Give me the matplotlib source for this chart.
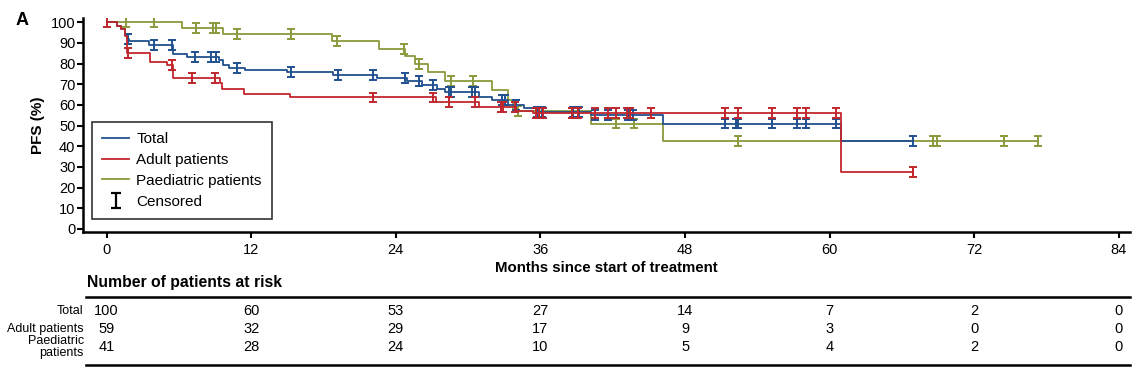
import matplotlib.pyplot as plt
import numpy as np
from matplotlib.lines import Line2D
from matplotlib.transforms import blended_transform_factory

plt.rcParams['font.family'] = ['Liberation Sans', 'DejaVu Sans']

# Kaplan-Meier steps (months, PFS %)
total_t = [0, 0.9, 1.2, 1.5, 1.7, 1.9, 3.5, 5.5, 6.7, 9.3, 9.7, 10.2, 11.5,
           15.0, 18.8, 22.4, 24.9, 26.2, 27.4, 28.1, 30.9, 32.0, 33.3, 34.6,
           35.6, 40.2, 46.2, 60.9]
total_s = [100, 98.2, 96.8, 94.0, 92.0, 90.8, 88.8, 84.8, 83.2, 81.5, 79.1,
           78.0, 77.1, 75.9, 74.3, 73.0, 71.4, 69.5, 67.6, 66.3, 63.9, 62.3,
           59.9, 58.3, 56.7, 55.0, 51.0, 42.5]
total_cens = [1.75, 1.8, 3.9, 5.4, 7.3, 8.7, 9.1, 10.8, 15.3, 19.2, 22.1,
              24.8, 25.9, 27.1, 28.4, 28.6, 30.3, 30.6, 32.8, 33.1, 34.0,
              35.7, 35.9, 36.1, 38.7, 39.2, 40.5, 41.6, 43.3, 43.7, 51.3,
              52.2, 52.4, 55.2, 57.3, 58.0, 60.5, 66.9]

adult_t = [0, 0.9, 1.2, 1.5, 1.7, 3.6, 5.0, 5.5, 9.4, 9.6, 11.4, 15.2, 27.3,
           30.9, 34.0, 35.4, 60.9]
adult_s = [100, 98.2, 96.8, 93.2, 85.1, 80.8, 79.1, 73.2, 70.6, 67.9, 65.5,
           63.6, 61.2, 58.8, 57.1, 55.9, 27.7]
adult_cens = [0.0, 1.8, 5.4, 7.1, 9.0, 22.1, 27.1, 28.4, 30.6, 32.7, 32.9,
              33.9, 35.6, 35.9, 36.2, 38.6, 39.1, 40.5, 41.6, 42.3, 43.2,
              43.4, 45.2, 51.3, 52.4, 55.2, 57.3, 58.0, 60.5, 66.9]

paed_t = [0, 6.3, 9.7, 18.7, 22.6, 24.8, 25.6, 26.7, 28.1, 32.0, 33.3, 33.7,
          40.2, 46.2]
paed_s = [100, 97.4, 94.3, 90.8, 87.2, 83.5, 80.0, 75.9, 71.7, 67.2, 62.3,
          57.2, 51.0, 42.5]
paed_cens = [1.6, 3.9, 7.4, 8.8, 9.1, 10.8, 15.3, 19.1, 24.7, 25.9, 28.6,
             30.4, 34.1, 42.3, 43.8, 52.4, 68.6, 68.9, 74.5, 77.3]

# number at risk table
risk_months = [0, 12, 24, 36, 48, 60, 72, 84]
risk_total = [100, 60, 53, 27, 14, 7, 2, 0]
risk_adult = [59, 32, 29, 17, 9, 3, 0, 0]
risk_paed = [41, 28, 24, 10, 5, 4, 2, 0]

BLUE = "#21508f"
RED = "#c0272d"
GREEN = "#8a9a3c"


def km_curve(ax, t, s, cens, color, label, z):
    """Draw a step curve with I-shaped censor marks."""
    t = np.asarray(t, float)
    s = np.asarray(s, float)
    end = max(max(cens), t[-1])
    tt = np.append(t, end)
    ss = np.append(s, s[-1])
    line, = ax.step(tt, ss, where="post", color=color, lw=1.3,
                    label=label, zorder=z)
    idx = np.searchsorted(t, cens, side="right") - 1
    ax.errorbar(cens, s[idx], yerr=2.4, fmt="none", ecolor=color,
                elinewidth=1.4, capsize=3.2, capthick=1.4, zorder=z + 0.5)
    return line


def main():
    fig = plt.figure(figsize=(11.39, 3.70), dpi=100)
    ax = fig.add_axes([0.0729, 0.373, 0.919, 0.578])

    l_paed = km_curve(ax, paed_t, paed_s, paed_cens, GREEN,
                      "Paediatric patients", 2)
    l_tot = km_curve(ax, total_t, total_s, total_cens, BLUE, "Total", 3)
    l_adu = km_curve(ax, adult_t, adult_s, adult_cens, RED,
                     "Adult patients", 4)
    # off-screen point, only used for the legend entry
    cens_handle = ax.errorbar([-50], [50], yerr=2.4, fmt="none",
                              ecolor="black", elinewidth=1.6, capsize=3.6,
                              capthick=1.6)

    ax.set_xlim(-1.95, 84.9)
    ax.set_ylim(-1.5, 102)
    ax.set_xticks(risk_months)
    ax.set_yticks(range(0, 101, 10))
    ax.tick_params(axis="both", labelsize=10.5, width=1.5, length=4)
    ax.tick_params(axis="x", pad=4)
    ax.tick_params(axis="y", pad=1.5)
    for side in ("top", "right"):
        ax.spines[side].set_visible(False)
    for side in ("left", "bottom"):
        ax.spines[side].set_linewidth(1.8)

    ax.set_ylabel("PFS (%)", fontsize=11, fontweight="bold", labelpad=4)
    ax.set_xlabel("Months since start of treatment", fontsize=10.8,
                  fontweight="bold", labelpad=3)

    leg = fig.legend([l_tot, l_adu, l_paed, cens_handle],
                     ["Total", "Adult patients", "Paediatric patients",
                      "Censored"],
                     loc="upper left", bbox_to_anchor=(0.0808, 0.670),
                     fontsize=11, frameon=True, fancybox=False,
                     borderaxespad=0, handlelength=1.8, labelspacing=0.45,
                     borderpad=0.65, handletextpad=0.45)
    leg.get_frame().set_edgecolor("black")
    leg.get_frame().set_linewidth(1.2)

    fig.text(0.014, 0.967, "A", fontsize=13, fontweight="bold", va="top")

    # number at risk table
    trans = blended_transform_factory(ax.transData, fig.transFigure)
    fig.text(0.0765, 1 - 283 / 370, "Number of patients at risk",
             fontsize=11.3, fontweight="bold", va="center")
    for yy in (1 - 297 / 370, 1 - 365 / 370):
        fig.add_artist(Line2D([0.0755, 0.992], [yy, yy], color="black",
                              lw=1.8, transform=fig.transFigure))

    rows = [("Total", risk_total, 311), ("Adult patients", risk_adult, 329),
            ("Paediatric\npatients", risk_paed, 347)]
    for name, vals, ypx in rows:
        y = 1 - ypx / 370
        fig.text(0.0735, y, name, fontsize=9, ha="right", va="center",
                 linespacing=0.9)
        for m, v in zip(risk_months, vals):
            fig.text(m, y, str(v), transform=trans, fontsize=10.5,
                     ha="center", va="center")

    fig.savefig("out.png", dpi=100)


if __name__ == "__main__":
    main()
